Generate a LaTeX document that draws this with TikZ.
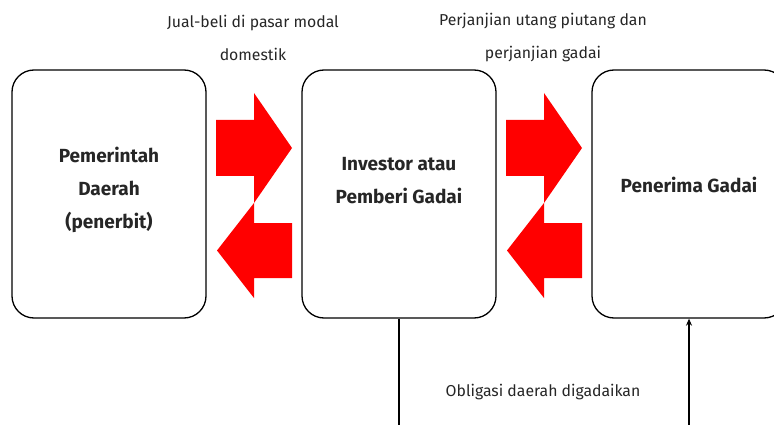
\documentclass[tikz,border=0pt]{standalone}
\usepackage{fontspec}
\setmainfont{Fira Sans}
\usepackage{tikz}
\usetikzlibrary{positioning, arrows.meta}

\tikzset{
  box/.style={draw, line width=1.3pt, rounded corners=22pt, minimum width=194pt, minimum height=248pt},
  title/.style={align=center, font=\fontsize{19}{33}\selectfont\bfseries, text=black!85},
  note/.style={align=center, font=\fontsize{15.8}{33}\selectfont, text=black!85},
  swap/.pic={
    \fill[red] (-38,76) -- (0,76) -- (0,103) -- (38,48) -- (0,-7) -- (0,20) -- (-38,20) -- cycle;
    \fill[red] (38,-27) -- (0,-27) -- (0,-7) -- (-37,-54.5) -- (0,-102) -- (0,-82) -- (38,-82) -- cycle;
  }
}

\begin{document}
\begin{tikzpicture}[x=1pt, y=1pt]
        \useasboundingbox (0,0) rectangle (774,-425);
        % Define the nodes
        \node[box] (pemda) at (109,-194) {};
        \node[box] (investor) at (399,-194) {};
        \node[box] (penerima) at (689,-194) {};
        \node[title] (t_pemda) at ([yshift=4pt]pemda.center) {Pemerintah\\Daerah\\(penerbit)};
        \node[title] (t_investor) at ([yshift=13pt]investor.center) {Investor atau\\Pemberi Gadai};
        \node[title] (t_penerima) at ([yshift=9pt]penerima.center) {Penerima Gadai};
        \node[note] (jualbeli) at (253,-38) {Jual-beli di pasar modal\\domestik};
        \node[note] (perjanjian) at (543,-38) {Perjanjian utang piutang dan\\perjanjian gadai};
        \node[note] (obligasi) at (543,-392) {Obligasi daerah digadaikan};
        % Define the red arrows
        \pic at (254,-196) {swap};
        \pic at (544,-196) {swap};
        % Define the connectors
        \coordinate (out) at (investor.south |- 0,-430);
        \coordinate (in) at (penerima.south |- 0,-430);
        \path[line width=1.3pt]
        (investor) edge (out)
        (in) edge[-{Stealth[length=7pt, width=6pt]}] (penerima);
    \end{tikzpicture}
\end{document}
